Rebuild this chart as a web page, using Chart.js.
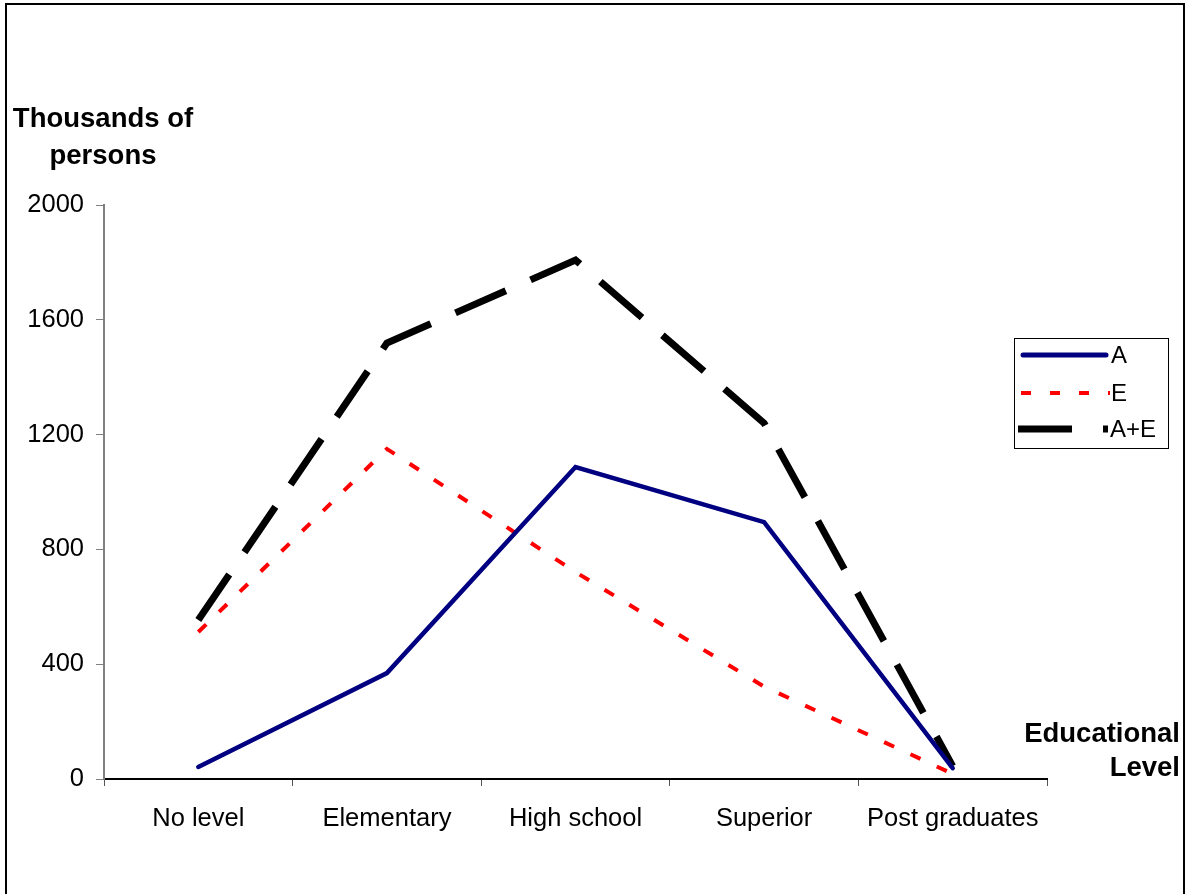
<!DOCTYPE html>
<html>
<head>
<meta charset="utf-8">
<title>Thousands of persons by educational level</title>
<script src="https://cdn.jsdelivr.net/npm/chart.js@4/dist/chart.umd.min.js"></script>
<style>
  html, body { margin: 0; padding: 0; background: #ffffff; }
  #wrap { width: 1187px; height: 894px; }
</style>
</head>
<body>
<div id="wrap"><canvas id="chart" width="1187" height="894"></canvas></div>
<script>
// Educational levels on the horizontal axis
const levels = ['No level', 'Elementary', 'High school', 'Superior', 'Post graduates'];

// Thousands of persons per level
const seriesA = [42, 369, 1087, 895, 38];
const seriesE = [512, 1150, 721, 322, 18];
const seriesAE = [554, 1519, 1808, 1240, 45];

// Vertical axis ticks
const yTicks = [0, 400, 800, 1200, 1600, 2000];

const FONT = '"Liberation Sans", Arial, sans-serif';

// Outer frame, axis captions and the boxed legend
const decorations = {
  id: 'decorations',
  beforeDraw(chart) {
    const ctx = chart.ctx;
    ctx.save();
    ctx.fillStyle = '#ffffff';
    ctx.fillRect(0, 0, chart.width, chart.height);
    ctx.restore();
  },
  afterDraw(chart) {
    const ctx = chart.ctx;
    ctx.save();
    // frame
    ctx.strokeStyle = '#000000';
    ctx.lineWidth = 2;
    ctx.beginPath();
    ctx.moveTo(6, 900);
    ctx.lineTo(6, 4);
    ctx.lineTo(1184, 4);
    ctx.lineTo(1184, 900);
    ctx.stroke();

    // y axis caption
    ctx.fillStyle = '#000000';
    ctx.font = 'bold 27.5px ' + FONT;
    ctx.textAlign = 'center';
    ctx.textBaseline = 'middle';
    ctx.fillText('Thousands of', 103, 119);
    ctx.fillText('persons', 103, 156);

    // x axis caption
    ctx.textAlign = 'right';
    ctx.fillText('Educational', 1180, 734);
    ctx.fillText('Level', 1180, 768);

    // legend box
    ctx.lineWidth = 1;
    ctx.strokeStyle = '#000000';
    ctx.strokeRect(1014.5, 338.5, 154, 110);

    const ds = chart.data.datasets;
    // A
    ctx.strokeStyle = ds[0].borderColor;
    ctx.lineWidth = 5;
    ctx.lineCap = 'round';
    ctx.beginPath();
    ctx.moveTo(1023, 355); ctx.lineTo(1106, 355);
    ctx.stroke();
    ctx.lineCap = 'butt';
    // E
    ctx.strokeStyle = ds[1].borderColor;
    ctx.lineWidth = 4;
    ctx.setLineDash([10, 19]);
    ctx.beginPath();
    ctx.moveTo(1021, 393); ctx.lineTo(1110, 393);
    ctx.stroke();
    // A+E
    ctx.strokeStyle = ds[2].borderColor;
    ctx.lineWidth = 7;
    ctx.setLineDash([54, 31]);
    ctx.beginPath();
    ctx.moveTo(1018, 429); ctx.lineTo(1108, 429);
    ctx.stroke();
    ctx.setLineDash([]);

    ctx.fillStyle = '#000000';
    ctx.font = '24px ' + FONT;
    ctx.textAlign = 'left';
    ctx.textBaseline = 'middle';
    ctx.fillText('A', 1111, 356);
    ctx.fillText('E', 1111, 394);
    ctx.fillText('A+E', 1110, 430);
    ctx.restore();
  }
};

new Chart(document.getElementById('chart'), {
  type: 'line',
  data: {
    labels: levels,
    datasets: [
      {
        label: 'A',
        data: seriesA,
        borderColor: '#000080',
        borderWidth: 4.5,
        pointRadius: 0,
        tension: 0,
        borderCapStyle: 'round',
        borderJoinStyle: 'miter'
      },
      {
        label: 'E',
        data: seriesE,
        borderColor: '#ff0000',
        borderWidth: 4,
        borderDash: [11, 18],
        pointRadius: 0,
        tension: 0,
        borderJoinStyle: 'miter'
      },
      {
        label: 'A+E',
        data: seriesAE,
        borderColor: '#000000',
        borderWidth: 7,
        borderDash: [55, 27],
        pointRadius: 0,
        tension: 0,
        borderJoinStyle: 'miter'
      }
    ]
  },
  options: {
    responsive: false,
    animation: false,
    devicePixelRatio: 1,
    layout: { padding: { left: 0, right: 140, top: 205, bottom: 0 } },
    plugins: {
      legend: { display: false },
      tooltip: { enabled: false }
    },
    scales: {
      x: {
        type: 'category',
        offset: true,
        grid: {
          offset: true,
          drawOnChartArea: false,
          drawTicks: true,
          tickLength: 7,
          color: '#555555',
          lineWidth: 1
        },
        border: { display: true, color: '#000000', width: 2 },
        ticks: {
          color: '#000000',
          font: { family: FONT, size: 25.5 },
          padding: 18,
          maxRotation: 0,
          autoSkip: false
        },
        afterFit(scale) { scale.height = 115; }
      },
      y: {
        min: 0,
        max: 2000,
        afterBuildTicks(scale) {
          scale.ticks = yTicks.map(v => ({ value: v }));
        },
        grid: {
          drawOnChartArea: false,
          drawTicks: true,
          tickLength: 8,
          color: '#808080',
          lineWidth: 1
        },
        border: { display: true, color: '#808080', width: 2 },
        ticks: {
          color: '#000000',
          font: { family: FONT, size: 25.5 },
          padding: 12,
          callback: v => String(v)
        },
        afterFit(scale) { scale.width = 104; }
      }
    }
  },
  plugins: [decorations]
});
</script>
</body>
</html>
